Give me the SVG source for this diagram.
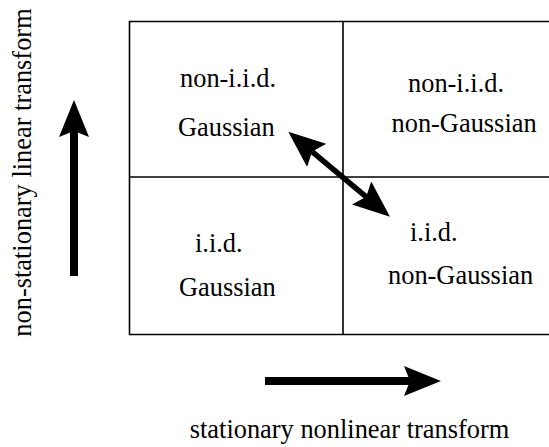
<svg xmlns="http://www.w3.org/2000/svg" width="549" height="447" viewBox="0 0 549 447">
<style>
text{font-family:"Liberation Serif","Times New Roman",serif;font-size:26.4px;fill:#000}
.grid{stroke:#000;stroke-width:1.6;fill:none}
.arr{stroke:#000;fill:none}
</style>
<defs>
<marker id="head" viewBox="0 -15 37 30" refX="6" refY="0" markerWidth="37" markerHeight="30" markerUnits="userSpaceOnUse" orient="auto-start-reverse">
<path d="M0,-15 L37,0 L0,15 L6,0 Z" fill="#000"/>
</marker>
</defs>
<rect width="549" height="447" fill="#fff"/>
<g id="grid">
<path class="grid" d="M551,21.5 H129.5 V334.5 H551 M343,21.5 V334.5 M129.5,177 H551"/>
</g>
<g id="cell-tl">
<text x="180" y="86.5">non-i.i.d.</text>
<text x="178" y="135.5">Gaussian</text>
</g>
<g id="cell-tr">
<text x="408" y="91.5">non-i.i.d.</text>
<text x="391.5" y="131.5">non-Gaussian</text>
</g>
<g id="cell-bl">
<text x="195" y="251.5">i.i.d.</text>
<text x="179" y="296">Gaussian</text>
</g>
<g id="cell-br">
<text x="410" y="240.5">i.i.d.</text>
<text x="388" y="284">non-Gaussian</text>
</g>
<g id="label-left">
<text transform="translate(31,172.5) rotate(-90)" text-anchor="middle">non-stationary linear transform</text>
</g>
<g id="label-bottom">
<text x="349.5" y="438" text-anchor="middle">stationary nonlinear transform</text>
</g>
<g id="connectors">
<line class="arr" x1="74" y1="276" x2="74" y2="131" stroke-width="8" marker-end="url(#head)"/>
<line class="arr" x1="265" y1="381" x2="410" y2="381" stroke-width="8" marker-end="url(#head)"/>
<line class="arr" x1="312.1" y1="151.6" x2="366.2" y2="196.8" stroke-width="5.5" marker-start="url(#head)" marker-end="url(#head)"/>
</g>
</svg>
